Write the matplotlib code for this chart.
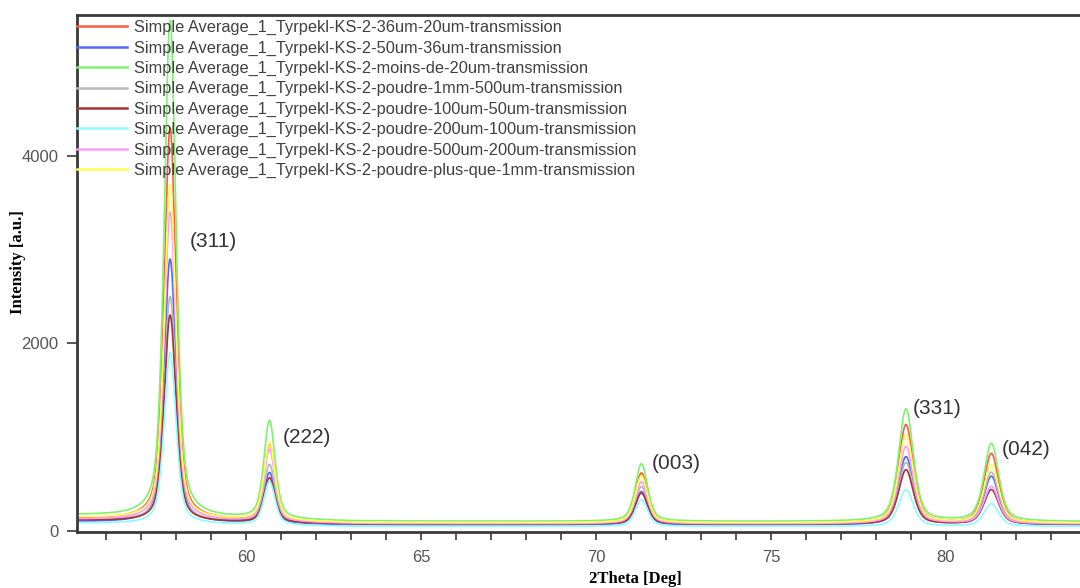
import numpy as np
import matplotlib.pyplot as plt
from matplotlib.ticker import MultipleLocator

# подписи серий
labels = [
    "Simple Average_1_Tyrpekl-KS-2-36um-20um-transmission",
    "Simple Average_1_Tyrpekl-KS-2-50um-36um-transmission",
    "Simple Average_1_Tyrpekl-KS-2-moins-de-20um-transmission",
    "Simple Average_1_Tyrpekl-KS-2-poudre-1mm-500um-transmission",
    "Simple Average_1_Tyrpekl-KS-2-poudre-100um-50um-transmission",
    "Simple Average_1_Tyrpekl-KS-2-poudre-200um-100um-transmission",
    "Simple Average_1_Tyrpekl-KS-2-poudre-500um-200um-transmission",
    "Simple Average_1_Tyrpekl-KS-2-poudre-plus-que-1mm-transmission",
]
colors = ["#ff5a48", "#5566ff", "#80f070", "#b8b8b8",
          "#a83434", "#88ffff", "#ff99ff", "#ffff55"]

# рефлексы: положение 2θ и ширина на полувысоте
hkl = ["(311)", "(222)", "(003)", "(331)", "(042)"]
peak_pos = [57.83, 60.67, 71.30, 78.86, 81.30]
peak_fwhm = [0.40, 0.38, 0.42, 0.50, 0.50]

# высоты пиков (по порядку рефлексов) для каждой серии
peak_height = [
    [4300, 915, 615, 1128, 819],
    [2900, 615, 416, 787, 577],
    [5450, 1165, 712, 1296, 926],
    [2500, 700, 470, 723, 620],
    [2300, 560, 400, 648, 435],
    [1900, 520, 330, 435, 285],
    [3400, 860, 520, 897, 470],
    [3700, 930, 580, 1022, 700],
]

# фон в опорных точках
bg_x = [55, 59, 63, 88]
bg_y = [
    [130, 110, 80, 75],
    [95, 80, 60, 60],
    [165, 130, 100, 95],
    [115, 95, 70, 65],
    [110, 90, 70, 65],
    [80, 65, 45, 45],
    [120, 100, 75, 70],
    [140, 115, 85, 80],
]

# подписи рефлексов
label_x = [58.4, 61.05, 71.6, 79.05, 81.6]
label_y = [3080, 990, 715, 1300, 860]

x_ticks = [60, 65, 70, 75, 80]
y_ticks = [0, 2000, 4000]


def pseudo_voigt(x, x0, fwhm, eta=0.5):
    "профиль пика, нормированный на 1 в максимуме"
    d = (x - x0) / (fwhm / 2)
    return eta / (1 + d**2) + (1 - eta) * np.exp(-np.log(2) * d**2)


theta = np.arange(55.0, 88.0, 0.02)

fig = plt.figure(figsize=(10.8, 5.88), dpi=100)
ax = fig.add_axes([0.071, 0.0952, 1.0345, 0.8793])

for i in range(len(labels)):
    y = np.interp(theta, bg_x, bg_y[i])
    for x0, w, h in zip(peak_pos, peak_fwhm, peak_height[i]):
        amp = h - np.interp(x0, bg_x, bg_y[i])
        y = y + amp * pseudo_voigt(theta, x0, w)
    ax.plot(theta, y, color=colors[i], lw=1.2, label=labels[i])

for t, x, y in zip(hkl, label_x, label_y):
    ax.text(x, y, t, fontsize=15, color="#333333", va="center",
            family="Liberation Sans")

ax.set_xlim(55.16, 87.09)
ax.set_ylim(-15, 5500)
ax.set_xticks(x_ticks)
ax.xaxis.set_minor_locator(MultipleLocator(1))
ax.set_yticks(y_ticks)

for s in ["left", "bottom", "top"]:
    ax.spines[s].set_linewidth(2)
    ax.spines[s].set_color("#3a3a3a")
ax.spines["right"].set_visible(False)

ax.tick_params(axis="both", which="both", direction="out", color="#3a3a3a",
               labelcolor="#555555", width=1.2)
ax.tick_params(axis="x", which="major", length=6, pad=7)
ax.tick_params(axis="x", which="minor", length=6)
ax.tick_params(axis="y", length=7, pad=6)
for lab in ax.get_xticklabels() + ax.get_yticklabels():
    lab.set_family("Liberation Sans")
    lab.set_fontsize(12)

ax.set_xlabel("2Theta [Deg]", family="Liberation Serif", fontweight="bold",
              fontsize=12, va="center")
ax.xaxis.set_label_coords(0.5, -0.091)
ax.set_ylabel("Intensity [a.u.]", family="Liberation Serif",
              fontweight="bold", fontsize=12, va="center")
ax.yaxis.set_label_coords(-0.0525, 0.522)

leg = ax.legend(loc="upper left", bbox_to_anchor=(0.0, 0.99), frameon=False,
                prop={"family": "Liberation Sans", "size": 11.8},
                handlelength=3.05, handletextpad=0.43, borderpad=0,
                borderaxespad=0, labelspacing=0.32)
for t in leg.get_texts():
    t.set_color("#404040")
for h in leg.get_lines():
    h.set_linewidth(1.8)

fig.savefig("out.png", dpi=100)
